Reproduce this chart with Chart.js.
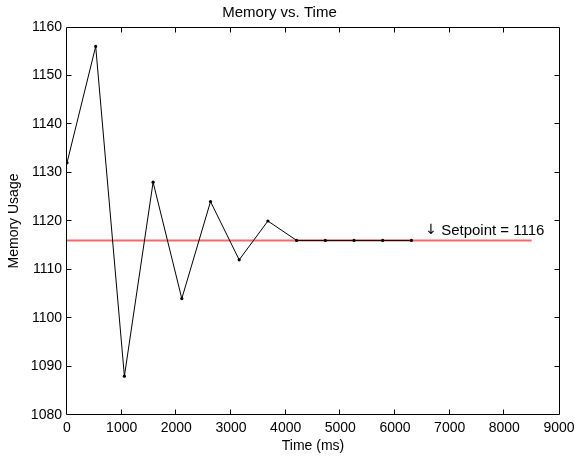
<!DOCTYPE html>
<html>
<head>
<meta charset="utf-8">
<script src="https://cdn.jsdelivr.net/npm/chart.js@4/dist/chart.umd.min.js"></script>
<style>
html,body{margin:0;padding:0;background:#fff;}
#wrap{width:576px;height:459px;}
</style>
</head>
<body>
<div id="wrap"><canvas id="c" width="576" height="459"></canvas></div>
<script>
// ---- data ----
const timeMs = [0, 525, 1050, 1575, 2100, 2625, 3150, 3675, 4200, 4725, 5250, 5775, 6300];
const memoryUsage = [1132, 1156, 1088, 1128, 1104, 1124, 1112, 1120, 1116, 1116, 1116, 1116, 1116];
const setpointValue = 1116;
const setpointRange = [0, 8500];
const xTickValues = [0, 1000, 2000, 3000, 4000, 5000, 6000, 7000, 8000, 9000];
const yTickValues = [1080, 1090, 1100, 1110, 1120, 1130, 1140, 1150, 1160];
const titleText = 'Memory vs. Time';
const xTitle = 'Time (ms)';
const yTitle = 'Memory Usage';
const annotationArrow = '\u2193';
const annotationLabel = 'Setpoint = 1116';
const annotationAt = [6570, 1118];

const FONT = '"Liberation Sans", Arial, Helvetica, sans-serif';

const seriesPoints = timeMs.map((t, i) => ({x: t, y: memoryUsage[i]}));
const setpointPoints = setpointRange.map(t => ({x: t, y: setpointValue}));

const boxPlugin = {
  id: 'boxPlugin',
  afterDraw(chart) {
    const {ctx, chartArea: a, scales: {x, y}} = chart;
    ctx.save();
    ctx.strokeStyle = '#000';
    ctx.lineWidth = 1;
    const L = a.left - 0.5, R = a.right + 0.5, T = a.top + 0.5, B = a.bottom - 0.5;
    ctx.beginPath();
    ctx.rect(L, T, R - L, B - T);
    ctx.stroke();
    const len = 5;
    ctx.beginPath();
    x.ticks.forEach((t, i) => {
      if (i === 0 || i === x.ticks.length - 1) return;
      const px = Math.round(x.getPixelForValue(t.value)) - 0.5;
      ctx.moveTo(px, B); ctx.lineTo(px, B - len);
      ctx.moveTo(px, T); ctx.lineTo(px, T + len);
    });
    y.ticks.forEach((t, i) => {
      if (i === 0 || i === y.ticks.length - 1) return;
      const py = Math.round(y.getPixelForValue(t.value)) - 0.5;
      ctx.moveTo(L, py); ctx.lineTo(L + len, py);
      ctx.moveTo(R, py); ctx.lineTo(R - len, py);
    });
    ctx.stroke();
    // annotation text
    ctx.fillStyle = '#000';
    ctx.textAlign = 'left';
    ctx.textBaseline = 'middle';
    const ax = x.getPixelForValue(annotationAt[0]);
    const ay = y.getPixelForValue(annotationAt[1]);
    ctx.font = '14px "DejaVu Sans", sans-serif';
    ctx.fillText(annotationArrow, ax - 1, ay);
    ctx.font = '15px ' + FONT;
    ctx.fillText(annotationLabel, ax + 15, ay);
    ctx.restore();
  }
};

new Chart(document.getElementById('c'), {
  type: 'line',
  data: {
    datasets: [
      {
        label: 'Memory',
        data: seriesPoints,
        borderColor: '#000',
        borderWidth: 1,
        pointRadius: 1.6,
        pointBackgroundColor: '#000',
        pointBorderWidth: 0,
        tension: 0,
        order: 0
      },
      {
        label: 'Setpoint',
        data: setpointPoints,
        borderColor: 'rgb(245,105,105)',
        borderWidth: 2,
        pointRadius: 0,
        tension: 0,
        order: 1
      }
    ]
  },
  options: {
    responsive: false,
    devicePixelRatio: 1,
    animation: false,
    layout: {padding: {left: 0, right: 17, top: 0, bottom: 0}},
    plugins: {
      legend: {display: false},
      tooltip: {enabled: false},
      title: {
        display: true,
        text: titleText,
        color: '#000',
        font: {family: FONT, size: 15, weight: 'normal', lineHeight: 1.2},
        padding: {top: 4, bottom: 5}
      }
    },
    scales: {
      x: {
        type: 'linear',
        min: 0,
        max: 9000,
        afterBuildTicks: s => { s.ticks = xTickValues.map(v => ({value: v})); },
        afterFit: s => { s.height = 44; s.paddingLeft = 0; s.paddingRight = 0; },
        grid: {display: false, drawTicks: false},
        border: {display: false},
        ticks: {
          color: '#000',
          font: {family: FONT, size: 14},
          padding: 5,
          maxRotation: 0,
          autoSkip: false,
          callback: v => String(v)
        },
        title: {
          display: true,
          text: xTitle,
          color: '#000',
          font: {family: FONT, size: 14, lineHeight: 1.2},
          padding: {top: 0, bottom: 4}
        }
      },
      y: {
        type: 'linear',
        min: 1080,
        max: 1160,
        afterBuildTicks: s => { s.ticks = yTickValues.map(v => ({value: v})); },
        afterFit: s => { s.width = 67; s.paddingTop = 0; s.paddingBottom = 0; },
        grid: {display: false, drawTicks: false},
        border: {display: false},
        ticks: {
          color: '#000',
          font: {family: FONT, size: 14},
          padding: 5,
          autoSkip: false,
          callback: v => String(v)
        },
        title: {
          display: true,
          text: yTitle,
          color: '#000',
          font: {family: FONT, size: 14, lineHeight: 1.2},
          padding: {top: 6, bottom: 0}
        }
      }
    }
  },
  plugins: [boxPlugin]
});
</script>
</body>
</html>
